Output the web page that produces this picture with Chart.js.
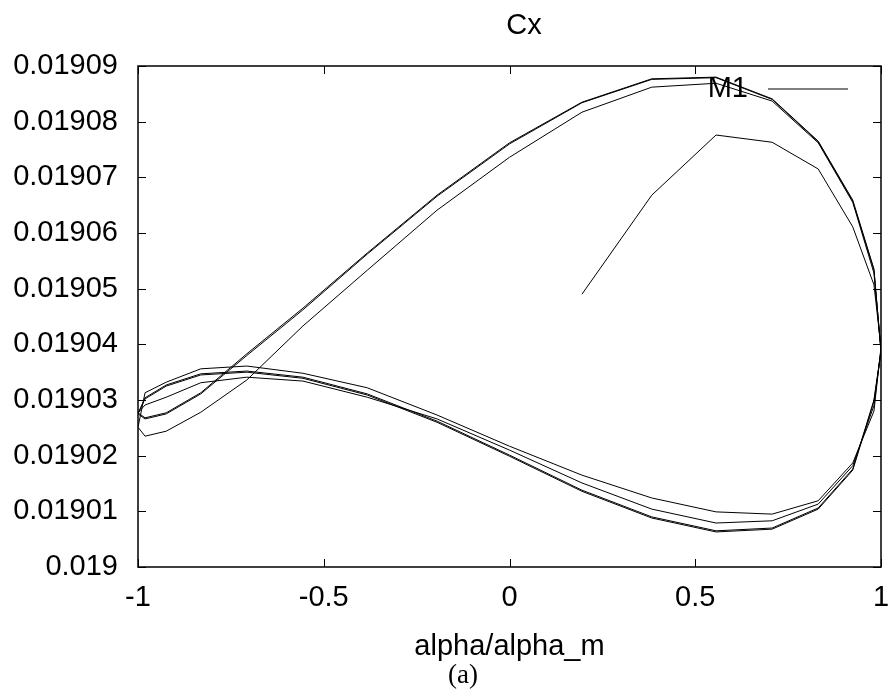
<!DOCTYPE html>
<html>
<head>
<meta charset="utf-8">
<script src="https://cdn.jsdelivr.net/npm/chart.js@4"></script>
<style>
  body { margin: 0; background: #fff; }
  #wrap { width: 891px; height: 691px; }
</style>
</head>
<body>
<div id="wrap"><canvas id="cxChart" width="891" height="691"></canvas></div>
<script>
// alpha/alpha_m positions on the way up (-1 -> 1) and on the way back (1 -> -1)
const alphaUp = [-1, -0.981, -0.924, -0.831, -0.707, -0.556, -0.383, -0.195, 0,
                 0.195, 0.383, 0.556, 0.707, 0.831, 0.924, 0.981, 1];
const alphaDown = [0.981, 0.924, 0.831, 0.707, 0.556, 0.383, 0.195, 0,
                   -0.195, -0.383, -0.556, -0.707, -0.831, -0.924, -0.981];

// Cx, pass by pass (first pass starts at alpha = 0.195)
const pass1Up = [0.0190490, 0.0190668, 0.0190776, 0.0190763, 0.0190715, 0.0190611, 0.0190507, 0.0190395];
const pass1Down = [0.0190280, 0.0190187, 0.0190119, 0.0190095, 0.0190099, 0.0190124, 0.0190165, 0.0190217,
                   0.0190273, 0.0190322, 0.0190348, 0.0190361, 0.0190356, 0.0190332, 0.0190313];
const pass2Up = [0.0190251, 0.0190235, 0.0190244, 0.0190278, 0.0190336, 0.0190433, 0.0190533, 0.0190641, 0.0190736,
                 0.0190817, 0.0190862, 0.0190869, 0.0190837, 0.0190762, 0.0190655, 0.0190528, 0.0190390];
const pass2Down = [0.0190290, 0.0190182, 0.0190113, 0.0190083, 0.0190079, 0.0190104, 0.0190151, 0.0190210,
                   0.0190266, 0.0190305, 0.0190334, 0.0190341, 0.0190331, 0.0190305, 0.0190291];
const pass3Up = [0.0190277, 0.0190268, 0.0190277, 0.0190313, 0.0190383, 0.0190465, 0.0190564, 0.0190668, 0.0190762,
                 0.0190835, 0.0190877, 0.0190880, 0.0190841, 0.0190765, 0.0190659, 0.0190535, 0.0190388];
const pass3Down = [0.0190300, 0.0190176, 0.0190106, 0.0190070, 0.0190065, 0.0190090, 0.0190138, 0.0190201,
                   0.0190262, 0.0190311, 0.0190341, 0.0190352, 0.0190347, 0.0190327, 0.0190304];
const pass4Up = [0.0190275, 0.0190266, 0.0190275, 0.0190311, 0.0190380, 0.0190462, 0.0190562, 0.0190666, 0.0190760,
                 0.0190834, 0.0190876, 0.0190879, 0.0190840, 0.0190764, 0.0190657, 0.0190534, 0.0190386];
const pass4Down = [0.0190298, 0.0190174, 0.0190104, 0.0190068, 0.0190063, 0.0190088, 0.0190136, 0.0190199,
                   0.0190260, 0.0190309, 0.0190339, 0.0190350, 0.0190345, 0.0190325, 0.0190302];
const lastPoint = [-1, 0.0190276];

const xTicks = [-1, -0.5, 0, 0.5, 1];
const xTickLabels = ['-1', '-0.5', '0', '0.5', '1'];
const yTicks = [0.019, 0.01901, 0.01902, 0.01903, 0.01904, 0.01905, 0.01906, 0.01907, 0.01908, 0.01909];
const yTickLabels = ['0.019', '0.01901', '0.01902', '0.01903', '0.01904', '0.01905', '0.01906', '0.01907', '0.01908', '0.01909'];

const seriesName = 'M1';
const chartTitle = 'Cx';
const xTitle = 'alpha/alpha_m';
const caption = '(a)';

// join the passes into one path
function pairs(xs, ys) {
    return ys.map((y, i) => ({ x: xs[i], y: y }));
}
const points = [].concat(
    pairs(alphaUp.slice(alphaUp.length - pass1Up.length), pass1Up),
    pairs(alphaDown, pass1Down),
    pairs(alphaUp, pass2Up),
    pairs(alphaDown, pass2Down),
    pairs(alphaUp, pass3Up),
    pairs(alphaDown, pass3Down),
    pairs(alphaUp, pass4Up),
    pairs(alphaDown, pass4Down),
    [{ x: lastPoint[0], y: lastPoint[1] }]
);

const FONT = '"Liberation Sans", Arial, Helvetica, sans-serif';

// frame, inward ticks, title, legend and caption, gnuplot style
const gnuplotFrame = {
    id: 'gnuplotFrame',
    afterDraw(chart) {
        const ctx = chart.ctx;
        const a = chart.chartArea;
        const xs = chart.scales.x;
        const ys = chart.scales.y;
        const tick = 8;
        ctx.save();
        ctx.strokeStyle = '#000';
        ctx.lineWidth = 1.5;
        ctx.strokeRect(a.left, a.top, a.right - a.left, a.bottom - a.top);

        ctx.lineWidth = 1;
        ctx.beginPath();
        xTicks.forEach(v => {
            const px = Math.round(xs.getPixelForValue(v)) + 0.5;
            ctx.moveTo(px, a.bottom); ctx.lineTo(px, a.bottom - tick);
            ctx.moveTo(px, a.top); ctx.lineTo(px, a.top + tick);
        });
        yTicks.forEach(v => {
            const py = Math.round(ys.getPixelForValue(v)) + 0.5;
            ctx.moveTo(a.left, py); ctx.lineTo(a.left + tick, py);
            ctx.moveTo(a.right, py); ctx.lineTo(a.right - tick, py);
        });
        ctx.stroke();

        // title
        ctx.fillStyle = '#000';
        ctx.font = '29px ' + FONT;
        ctx.textAlign = 'center';
        ctx.textBaseline = 'middle';
        ctx.fillText(chartTitle, 524, 26);

        // legend
        ctx.textAlign = 'right';
        ctx.fillText(seriesName, 748, 89);
        ctx.beginPath();
        ctx.moveTo(768, 89); ctx.lineTo(848, 89);
        ctx.stroke();

        // caption
        ctx.font = '27px "Liberation Serif", "DejaVu Serif", serif';
        ctx.textAlign = 'center';
        ctx.fillText(caption, 463, 676);
        ctx.restore();
    }
};

new Chart(document.getElementById('cxChart'), {
    type: 'line',
    data: {
        datasets: [{
            label: seriesName,
            data: points,
            borderColor: '#000',
            borderWidth: 1,
            pointRadius: 0,
            tension: 0,
            fill: false
        }]
    },
    options: {
        responsive: false,
        animation: false,
        layout: { padding: { top: 66, right: 10, bottom: 0, left: 0 } },
        plugins: {
            legend: { display: false },
            title: { display: false },
            tooltip: { enabled: false }
        },
        scales: {
            x: {
                type: 'linear',
                min: -1,
                max: 1,
                afterBuildTicks: s => { s.ticks = xTicks.map(v => ({ value: v })); },
                afterFit: s => {
                    s.height = 124;
                    s.paddingLeft = 0;
                    s.paddingRight = 0;
                },
                grid: { display: false, drawTicks: false },
                border: { display: false },
                ticks: {
                    padding: 14,
                    color: '#000',
                    font: { family: FONT, size: 29 },
                    maxRotation: 0,
                    callback: (v) => xTickLabels[xTicks.indexOf(v)]
                },
                title: {
                    display: true,
                    text: xTitle,
                    color: '#000',
                    font: { family: FONT, size: 29 },
                    padding: { top: 0, bottom: 27 }
                }
            },
            y: {
                type: 'linear',
                min: 0.019,
                max: 0.01909,
                afterBuildTicks: s => { s.ticks = yTicks.map(v => ({ value: v })); },
                afterFit: s => {
                    s.width = 138;
                    s.paddingTop = 0;
                    s.paddingBottom = 0;
                },
                grid: { display: false, drawTicks: false },
                border: { display: false },
                ticks: {
                    padding: 20,
                    color: '#000',
                    font: { family: FONT, size: 29 },
                    callback: (v) => yTickLabels[yTicks.indexOf(v)]
                }
            }
        }
    },
    plugins: [gnuplotFrame]
});
</script>
</body>
</html>
